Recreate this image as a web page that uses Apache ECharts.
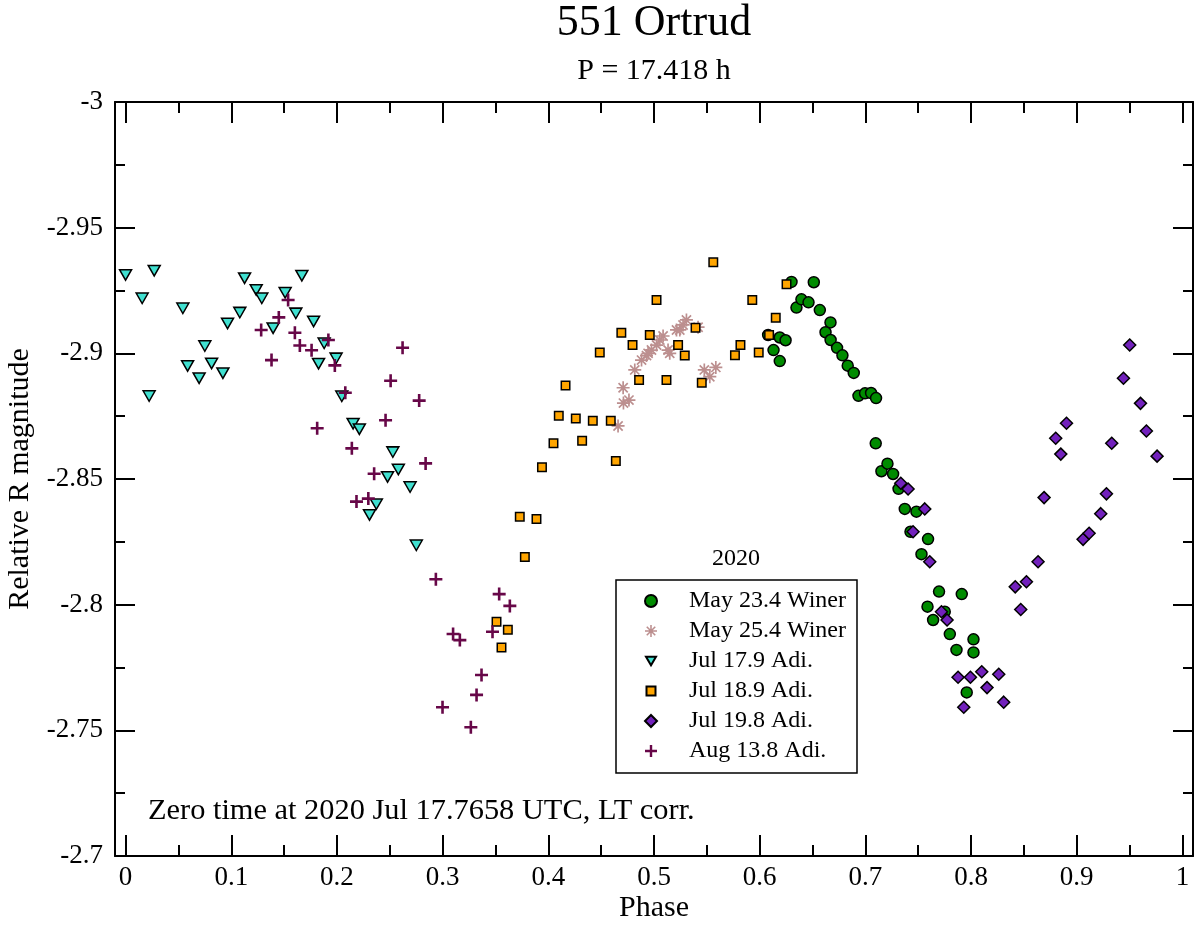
<!DOCTYPE html>
<html><head><meta charset="utf-8">
<script src="https://cdn.jsdelivr.net/npm/echarts@6/dist/echarts.min.js"></script>
<style>html,body{margin:0;padding:0;background:#fff}#c{width:1200px;height:925px}</style>
</head><body><div id="c"></div>
<script>
const xTickValues = [0, 0.1, 0.2, 0.3, 0.4, 0.5, 0.6, 0.7, 0.8, 0.9, 1];
const xMinorValues = [0.05, 0.15, 0.25, 0.35, 0.45, 0.55, 0.65, 0.75, 0.85, 0.95];
const seriesNames = ['May 23.4 Winer', 'May 25.4 Winer', 'Jul 17.9 Adi.', 'Jul 18.9 Adi.', 'Jul 19.8 Adi.', 'Aug 13.8 Adi.'];

const may23 = [[0.6080,-2.9073],[0.6131,-2.9013],[0.6190,-2.9063],[0.6190,-2.8969],[0.6245,-2.9052],[0.6301,-2.9284],[0.6348,-2.9182],[0.6395,-2.9215],[0.6462,-2.9203],[0.6512,-2.9283],[0.6569,-2.9172],[0.6623,-2.9084],[0.6670,-2.9123],[0.6671,-2.9053],[0.6732,-2.9022],[0.6783,-2.8992],[0.6833,-2.8951],[0.6890,-2.8922],[0.6935,-2.8831],[0.6997,-2.8841],[0.7054,-2.8842],[0.7101,-2.8822],[0.7098,-2.8642],[0.7152,-2.8531],[0.7209,-2.8561],[0.7262,-2.8520],[0.7314,-2.8461],[0.7373,-2.8381],[0.7427,-2.8290],[0.7483,-2.8370],[0.7531,-2.8201],[0.7593,-2.8261],[0.7588,-2.7992],[0.7641,-2.7939],[0.7697,-2.8052],[0.7751,-2.7972],[0.7799,-2.7883],[0.7862,-2.7820],[0.7912,-2.8042],[0.7959,-2.7651],[0.8023,-2.7862],[0.8023,-2.7810]];

const may25 = [[0.4660,-2.8711],[0.4708,-2.8863],[0.4711,-2.8802],[0.4763,-2.8814],[0.4818,-2.8934],[0.4882,-2.8973],[0.4929,-2.8991],[0.4944,-2.9000],[0.4976,-2.9013],[0.5024,-2.9033],[0.5055,-2.9053],[0.5086,-2.9069],[0.5133,-2.9013],[0.5149,-2.9000],[0.5213,-2.9093],[0.5244,-2.9093],[0.5275,-2.9113],[0.5307,-2.9133],[0.5417,-2.9104],[0.5476,-2.8934],[0.5528,-2.8907],[0.5585,-2.8944]];

const jul17 = [[0.0000,-2.9312],[0.0271,-2.9329],[0.0157,-2.9219],[0.0223,-2.8830],[0.0542,-2.9179],[0.0587,-2.8950],[0.0696,-2.8901],[0.0750,-2.9029],[0.0814,-2.8960],[0.0921,-2.8921],[0.0965,-2.9119],[0.1081,-2.9162],[0.1126,-2.9299],[0.1236,-2.9252],[0.1289,-2.9219],[0.1396,-2.9100],[0.1510,-2.9241],[0.1611,-2.9159],[0.1668,-2.9309],[0.1779,-2.9127],[0.1879,-2.9040],[0.1826,-2.8959],[0.1992,-2.8980],[0.2046,-2.8829],[0.2153,-2.8720],[0.2212,-2.8698],[0.2529,-2.8607],[0.2581,-2.8538],[0.2479,-2.8508],[0.2692,-2.8468],[0.2373,-2.8400],[0.2308,-2.8357],[0.2751,-2.8236]];

const jul18 = [[0.3510,-2.7932],[0.3557,-2.7830],[0.3617,-2.7900],[0.3730,-2.8350],[0.3778,-2.8190],[0.3888,-2.8341],[0.3940,-2.8547],[0.4049,-2.8642],[0.4099,-2.8752],[0.4163,-2.8872],[0.4260,-2.8741],[0.4320,-2.8652],[0.4421,-2.8732],[0.4487,-2.9003],[0.4591,-2.8732],[0.4639,-2.8572],[0.4691,-2.9082],[0.4797,-2.9033],[0.4859,-2.8894],[0.4960,-2.9073],[0.5024,-2.9212],[0.5118,-2.8894],[0.5228,-2.9033],[0.5291,-2.8991],[0.5393,-2.9102],[0.5452,-2.8883],[0.5561,-2.9362],[0.5766,-2.8992],[0.5818,-2.9033],[0.5930,-2.9212],[0.5991,-2.9003],[0.6089,-2.9073],[0.6152,-2.9142],[0.6254,-2.9275]];

const jul19 = [[0.7335,-2.8483],[0.7404,-2.8460],[0.7562,-2.8381],[0.7451,-2.8290],[0.7609,-2.8171],[0.7720,-2.7972],[0.7773,-2.7939],[0.7877,-2.7711],[0.7994,-2.7711],[0.8101,-2.7733],[0.8262,-2.7723],[0.8151,-2.7670],[0.8309,-2.7612],[0.7931,-2.7592],[0.8418,-2.8071],[0.8524,-2.8091],[0.8470,-2.7981],[0.8634,-2.8171],[0.8691,-2.8426],[0.8801,-2.8662],[0.8849,-2.8599],[0.8903,-2.8722],[0.9060,-2.8260],[0.9117,-2.8284],[0.9227,-2.8362],[0.9281,-2.8441],[0.9331,-2.8642],[0.9442,-2.8901],[0.9501,-2.9033],[0.9603,-2.8801],[0.9659,-2.8691],[0.9760,-2.8591]];

const aug13 = [[0.1538,-2.9212],[0.1450,-2.9143],[0.1283,-2.9093],[0.1602,-2.9082],[0.1381,-2.8973],[0.1649,-2.9031],[0.1760,-2.9012],[0.1919,-2.9053],[0.1980,-2.8952],[0.2079,-2.8843],[0.2621,-2.9022],[0.2508,-2.8891],[0.2778,-2.8812],[0.1813,-2.8702],[0.2460,-2.8734],[0.2141,-2.8622],[0.2839,-2.8562],[0.2352,-2.8521],[0.2185,-2.8410],[0.2297,-2.8422],[0.2936,-2.8101],[0.3535,-2.8042],[0.3636,-2.7995],[0.3099,-2.7883],[0.3163,-2.7859],[0.3472,-2.7892],[0.3368,-2.7720],[0.3321,-2.7641],[0.2999,-2.7592],[0.3267,-2.7512]];

const F = "'Liberation Serif','Times New Roman',serif";
const PLUS = 'path://M4,0H6V4H10V6H6V10H4V6H0V4H4Z';
const ASTER = 'path://M0,8.7H20V11.3H0Z M8.7,0H11.3V20H8.7Z M3.85,2.01L17.99,16.15L16.15,17.99L2.01,3.85Z M2.01,16.15L16.15,2.01L17.99,3.85L3.85,17.99Z';
// marker shapes padded inside a 12x12 box so the legend icons keep their relative sizes
const TRI = 'path://M1,1.75H11L6,10.25Z M0,0L0,0 M12,12L12,12';
const RECT = 'path://M1.5,1.5H10.5V10.5H1.5Z M0,0L0,0 M12,12L12,12';
const DIA = 'path://M6,0L12,6L6,12L0,6Z';

const chart = echarts.init(document.getElementById('c'), null, {renderer: 'canvas'});

function xAx(pos, major, withLabel) {
  return {
    type: 'value', position: pos, min: -0.01, max: 1.01,
    axisLine: {show: major, onZero: false, lineStyle: {color: '#000', width: 2}},
    axisTick: {show: true, inside: true, length: major ? 21 : 11, customValues: major ? xTickValues : xMinorValues, lineStyle: {color: '#000', width: 2}},
    axisLabel: withLabel ? {show: true, customValues: xTickValues, color: '#000', fontFamily: F, fontSize: 27, margin: 8,
      formatter: v => String(Math.round(v * 1000) / 1000)} : {show: false},
    splitLine: {show: false},
    name: withLabel ? 'Phase' : '', nameLocation: 'middle', nameGap: 37, nameMoveOverlap: false,
    nameTextStyle: {color: '#000', fontFamily: F, fontSize: 30}
  };
}
function yAx(pos, withLabel) {
  return {
    type: 'value', position: pos, inverse: true, min: -3, max: -2.7, interval: 0.05,
    axisLine: {show: true, onZero: false, lineStyle: {color: '#000', width: 2}},
    axisTick: {show: true, inside: true, length: 20, lineStyle: {color: '#000', width: 2}},
    minorTick: {show: true, splitNumber: 2, length: 10, lineStyle: {color: '#000', width: 2}},
    axisLabel: withLabel ? {show: true, color: '#000', fontFamily: F, fontSize: 27, margin: 12,
      formatter: v => String(Math.round(v * 1000) / 1000)} : {show: false},
    splitLine: {show: false}, minorSplitLine: {show: false},
    name: withLabel ? 'Relative R magnitude' : '', nameLocation: 'middle', nameGap: 80, nameMoveOverlap: false,
    nameTextStyle: {color: '#000', fontFamily: F, fontSize: 30}
  };
}

const border = {borderColor: '#000', borderWidth: 1.5, opacity: 1};
chart.setOption({
  animation: false,
  backgroundColor: '#fff',
  grid: {left: 115, right: 7, top: 102, bottom: 69, containLabel: false, outerBoundsMode: 'none'},
  xAxis: [xAx('bottom', true, true), xAx('bottom', false, false), xAx('top', true, false), xAx('top', false, false)],
  yAxis: [yAx('left', true), yAx('right', false)],
  legend: {
    orient: 'vertical', left: 616, top: 580, padding: [9, 11, 10, 28],
    itemWidth: 66, itemHeight: 12, itemGap: 6, selectedMode: false,
    borderColor: '#000', borderWidth: 1.5, backgroundColor: '#fff',
    textStyle: {color: '#000', fontFamily: F, fontSize: 24, lineHeight: 24},
    data: seriesNames
  },
  graphic: [
    {type: 'text', x: 654, y: 23, style: {text: '551 Ortrud', fontFamily: F, fontSize: 44, fill: '#000', textAlign: 'center', textVerticalAlign: 'middle'}},
    {type: 'text', x: 654, y: 71, style: {text: 'P = 17.418 h', fontFamily: F, fontSize: 30, fill: '#000', textAlign: 'center', textVerticalAlign: 'middle'}},
    {type: 'text', x: 736, y: 559, style: {text: '2020', fontFamily: F, fontSize: 24, fill: '#000', textAlign: 'center', textVerticalAlign: 'middle'}},
    {type: 'text', x: 148, y: 811, style: {text: 'Zero time at 2020 Jul 17.7658 UTC, LT corr.', fontFamily: F, fontSize: 30.4, fill: '#000', textAlign: 'left', textVerticalAlign: 'middle'}}
  ],
  series: [
    {name: seriesNames[0], type: 'scatter', data: may23, symbol: 'circle', symbolSize: 11, silent: true,
      itemStyle: Object.assign({color: '#008b00'}, border)},
    {name: seriesNames[1], type: 'scatter', data: may25, symbol: ASTER, symbolSize: 13, silent: true,
      itemStyle: {color: '#bc8f8f', borderWidth: 0, opacity: 1}},
    {name: seriesNames[2], type: 'scatter', data: jul17, symbol: TRI, symbolSize: [14.4, 14.8], silent: true,
      itemStyle: Object.assign({color: '#40e0d0'}, border)},
    {name: seriesNames[3], type: 'scatter', data: jul18, symbol: RECT, symbolSize: 11.3, silent: true,
      itemStyle: Object.assign({color: '#ffa500'}, border)},
    {name: seriesNames[4], type: 'scatter', data: jul19, symbol: DIA, symbolSize: 12, silent: true,
      itemStyle: Object.assign({color: '#7221bc'}, border)},
    {name: seriesNames[5], type: 'scatter', data: aug13, symbol: PLUS, symbolSize: 13, silent: true,
      itemStyle: {color: '#670748', borderWidth: 0, opacity: 1}}
  ]
});
</script>
</body></html>
